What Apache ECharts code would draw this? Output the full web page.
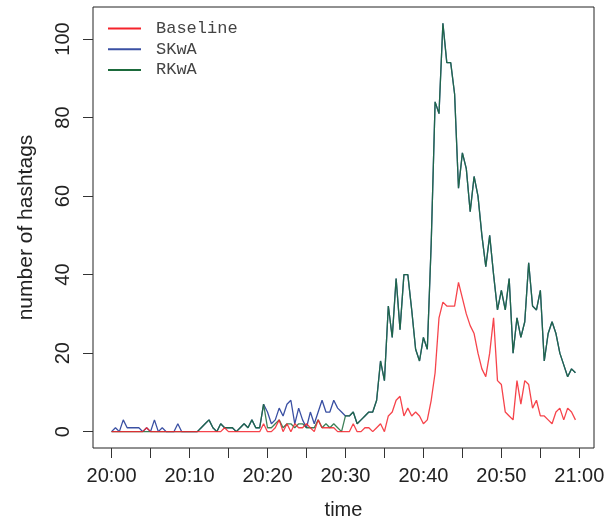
<!DOCTYPE html>
<html><head><meta charset="utf-8">
<script src="https://cdn.jsdelivr.net/npm/echarts@6/dist/echarts.min.js"></script>
<style>html,body{margin:0;padding:0;background:#fff}#c{width:613px;height:520px}</style>
</head><body><div id="c"></div>
<script>
// 30-second bins starting at 20:00 (x = minutes after 20:00)
const binCount = 120;
const binStepMinutes = 0.5;
const seriesNames = ['Baseline', 'SKwA', 'RKwA'];

const baseline = [
  0,0,0,0,0,0,0,0,0,1,
  0,0,0,0,0,0,0,0,0,0,
  0,0,0,0,0,0,0,0,0,1,
  0,0,0,0,0,0,0,0,0,2,
  0,0,1,3,0,2,0,2,1,1,
  2,1,0,3,1,1,1,1,0,0,
  0,0,2,0,0,1,1,0,1,2,
  0,4,5,8,9,4,6,4,5,4,
  2,3,8,15,29,33,32,32,32,38,
  34,30,27,25,20,16,14,20,29,13,
  12,5,4,3,13,7,13,12,6,8,
  4,4,3,2,5,6,3,6,5,3
];
const skwa = [
  0,1,0,3,1,1,1,1,0,1,
  0,3,0,1,0,0,0,2,0,0,
  0,0,0,1,2,3,1,0,2,1,
  1,1,0,1,2,1,3,1,1,7,
  5,2,3,6,4,7,8,2,6,3,
  1,5,2,5,8,5,5,8,6,5,
  4,4,5,2,3,4,5,5,8,18,
  13,32,24,39,26,40,40,31,21,18,
  24,21,48,84,81,104,94,94,86,62,
  71,67,56,65,60,50,42,50,40,31,
  36,31,39,20,29,24,28,43,32,31,
  36,18,25,28,25,20,17,14,16,15
];
const rkwa = [
  0,0,0,0,0,0,0,0,0,0,
  0,0,0,0,0,0,0,0,0,0,
  0,0,0,1,2,3,1,0,2,1,
  1,1,0,1,2,1,3,1,1,7,
  1,1,2,3,1,2,2,1,2,2,
  1,1,1,3,1,2,1,2,1,0,
  4,4,5,2,3,4,5,5,8,18,
  13,32,24,39,26,40,40,31,21,18,
  24,21,48,84,81,104,94,94,86,62,
  71,67,56,65,60,50,42,50,40,31,
  36,31,39,20,29,24,28,43,32,31,
  36,18,25,28,25,20,17,14,16,15
];

const xTickMinutes = [0,5,10,15,20,25,30,35,40,45,50,55,60];
const xLabelMinutes = [0,10,20,30,40,50,60];
const xTickLabels = ['20:00','20:10','20:20','20:30','20:40','20:50','21:00'];
const yTicks = [0,20,40,60,80,100];

const minutes = Array.from({length: binCount}, (_, i) => i * binStepMinutes);
const toPairs = arr => minutes.map((t, i) => [t, arr[i]]);

const colors = {Baseline: '#F5232B', SKwA: '#3A50A3', RKwA: '#1B6A3B'};
const labelFont = 'Liberation Sans, Arial, Helvetica, sans-serif';

const chart = echarts.init(document.getElementById('c'));
chart.setOption({
  animation: false,
  backgroundColor: '#ffffff',
  grid: {left: 93, right: 19, top: 7, bottom: 72, show: true, borderColor: '#222', borderWidth: 1,
    containLabel: false, outerBoundsMode: 'none'},
  legend: {
    data: seriesNames, orient: 'vertical', left: 108, top: 20, padding: 0,
    icon: 'rect', itemWidth: 33, itemHeight: 2, itemGap: 3.7, selectedMode: false,
    textStyle: {fontFamily: 'Liberation Mono, Courier New, monospace', fontSize: 17, lineHeight: 17, color: '#444', padding: [0,0,0,10]}
  },
  xAxis: {
    type: 'value', min: -2.38, max: 61.88,
    splitLine: {show: false}, axisLine: {show: false, onZero: false},
    axisTick: {show: true, inside: false, length: 10, customValues: xTickMinutes, lineStyle: {color: '#333', width: 1}},
    axisLabel: {customValues: xLabelMinutes, fontSize: 20, fontFamily: labelFont, color: '#222', margin: 18,
      formatter: v => xTickLabels[xLabelMinutes.indexOf(v)]},
    name: 'time', nameLocation: 'middle', nameGap: 52,
    nameTextStyle: {fontSize: 20, fontFamily: labelFont, color: '#222'}
  },
  yAxis: {
    type: 'value', min: -4.16, max: 108.16,
    splitLine: {show: false}, axisLine: {show: false, onZero: false},
    axisTick: {show: true, inside: false, length: 10, customValues: yTicks, lineStyle: {color: '#333', width: 1}},
    axisLabel: {customValues: yTicks, rotate: 90, fontSize: 20, fontFamily: labelFont, color: '#222', margin: 20},
    name: 'number of hashtags', nameLocation: 'middle', nameGap: 56, nameRotate: 90,
    nameTextStyle: {fontSize: 21, fontFamily: labelFont, color: '#222'}
  },
  series: [
    {name: 'SKwA', type: 'line', data: toPairs(skwa), symbol: 'none', z: 2,
      lineStyle: {color: colors.SKwA, width: 1.3}, itemStyle: {color: colors.SKwA}},
    {name: 'RKwA', type: 'line', data: toPairs(rkwa), symbol: 'none', z: 3,
      lineStyle: {color: colors.RKwA, width: 1.3, opacity: 0.85}, itemStyle: {color: colors.RKwA}},
    {name: 'Baseline', type: 'line', data: toPairs(baseline), symbol: 'none', z: 4,
      lineStyle: {color: colors.Baseline, width: 1.3, opacity: 0.85}, itemStyle: {color: colors.Baseline}}
  ]
});
</script></body></html>
